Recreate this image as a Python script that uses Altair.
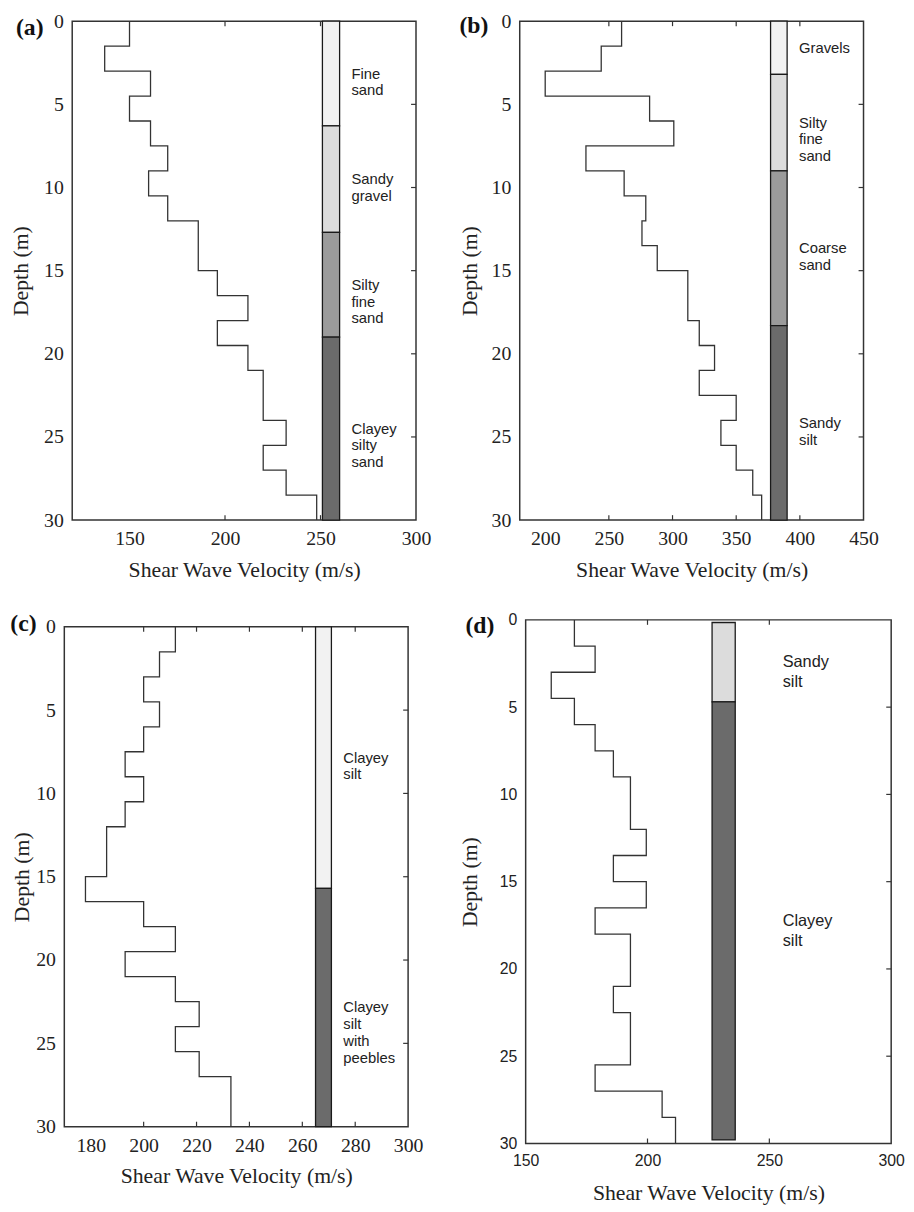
import altair as alt
import pandas as pd

# ---------------- data ----------------
# (a)
a_top = [0, 1.5, 3, 4.5, 6, 7.5, 9, 10.5, 12, 15, 16.5, 18, 19.5, 21, 24, 25.5, 27, 28.5]
a_vs = [150, 137, 161, 150, 161, 170, 160, 170, 186, 196, 212, 196, 212, 220, 232, 220, 232, 248]
a_soil = ["Fine\nsand", "Sandy\ngravel", "Silty\nfine\nsand", "Clayey\nsilty\nsand"]
a_soil_top = [0, 6.3, 12.7, 19.0]
a_soil_bot = [6.3, 12.7, 19.0, 30]
a_col = [251, 260]
# (b)
b_top = [0, 1.5, 3, 4.5, 6, 7.5, 9, 10.5, 12, 13.5, 15, 18, 19.5, 21, 22.5, 24, 25.5, 27, 28.5]
b_vs = [260, 244, 200, 282, 301, 232, 262, 279, 276, 288, 312, 321, 333, 321, 350, 338, 350, 363, 370]
b_soil = ["Gravels", "Silty\nfine\nsand", "Coarse\nsand", "Sandy\nsilt"]
b_soil_top = [0, 3.2, 9.0, 18.3]
b_soil_bot = [3.2, 9.0, 18.3, 30]
b_col = [377, 390]
# (c)
c_top = [0, 1.5, 3, 4.5, 6, 7.5, 9, 10.5, 12, 15, 16.5, 18, 19.5, 21, 22.5, 24, 25.5, 27]
c_vs = [212, 206, 200, 206, 200, 193, 200, 193, 186, 178, 200, 212, 193, 212, 221, 212, 221, 233]
c_soil = ["Clayey\nsilt", "Clayey\nsilt\nwith\npeebles"]
c_soil_top = [0, 15.7]
c_soil_bot = [15.7, 30]
c_col = [265, 271]
# (d)
d_top = [0, 1.5, 3, 4.5, 6, 7.5, 9, 12, 13.5, 15, 16.5, 18, 21, 22.5, 25.5, 27, 28.5]
d_vs = [170, 178.5, 160.5, 170, 178.5, 186, 193, 199.5, 186, 199.5, 178.5, 193, 186, 193, 178.5, 206, 211.5]
d_soil = ["Sandy\nsilt", "Clayey\nsilt"]
d_soil_top = [0.15, 4.7]
d_soil_bot = [4.7, 29.8]
d_col = [226.5, 236]

depth_ticks = [0, 5, 10, 15, 20, 25, 30]
a_xticks = [150, 200, 250, 300]
b_xticks = [200, 250, 300, 350, 400, 450]
c_xticks = [180, 200, 220, 240, 260, 280, 300]
d_xticks = [150, 200, 250, 300]

SERIF = "Liberation Serif"
SANS = "Liberation Sans"
INK = "#222222"
L1, L2, M, D = "#f2f2f2", "#dcdcdc", "#9b9b9b", "#6b6b6b"


def panel(label, tops, vs, soil, s_top, s_bot, col, colors, xdom, xticks,
          width, height, tick_font, tick_size, lab_dx, lab_size, lab_lh,
          ytitle_x, tag_dx, tag_dy):
    rows = []
    for i, (t, v) in enumerate(zip(tops, vs)):
        b = tops[i + 1] if i + 1 < len(tops) else 30
        rows.append({"v": v, "d": t, "o": 2 * i})
        rows.append({"v": v, "d": b, "o": 2 * i + 1})
    prof = pd.DataFrame(rows)
    soil_df = pd.DataFrame({
        "name": soil, "top": s_top, "bot": s_bot,
        "mid": [(t + b) / 2 for t, b in zip(s_top, s_bot)],
        "left": [col[0]] * len(soil), "right": [col[1]] * len(soil),
        "fill": colors,
    })
    xs = alt.Scale(domain=xdom, nice=False, zero=False)
    ys = alt.Scale(domain=[0, 30], reverse=True, nice=False)
    xax = alt.Axis(
        values=xticks, ticks=False, tickSize=0, domain=False, grid=False,
        labelFont=tick_font, labelFontSize=tick_size, labelColor=INK,
        labelPadding=9, labelFlush=False, labelOverlap=False,
        title="Shear Wave Velocity (m/s)", titleFont=SERIF, titleFontSize=22,
        titleFontWeight="normal", titleColor=INK, titleY=50, titleBaseline="middle")
    yax = alt.Axis(
        values=depth_ticks, ticks=False, tickSize=0, domain=False, grid=False,
        labelFont=tick_font, labelFontSize=tick_size, labelColor=INK,
        labelPadding=9, labelFlush=False, labelOverlap=False,
        title="Depth (m)", titleFont=SERIF, titleFontSize=22,
        titleFontWeight="normal", titleColor=INK, titleX=ytitle_x, titleBaseline="middle")

    line = alt.Chart(prof).mark_line(color="#333333", strokeWidth=1.3).encode(
        x=alt.X("v:Q", scale=xs, axis=xax),
        y=alt.Y("d:Q", scale=ys, axis=yax),
        order="o:Q",
    )
    rect = alt.Chart(soil_df).mark_rect(stroke="#1a1a1a", strokeWidth=1.3).encode(
        x=alt.X("left:Q", scale=xs, axis=xax), x2="right:Q",
        y=alt.Y("top:Q", scale=ys, axis=yax), y2="bot:Q",
        color=alt.Color("fill:N", scale=None),
    )
    text = alt.Chart(soil_df).mark_text(
        align="left", baseline="middle", dx=lab_dx, font=SANS, fontSize=lab_size,
        lineHeight=lab_lh, lineBreak="\n", color=INK,
    ).encode(
        x=alt.X("right:Q", scale=xs, axis=xax),
        y=alt.Y("mid:Q", scale=ys, axis=yax),
        text="name:N",
    )
    inner_x = pd.DataFrame({"t": xticks[1:-1]})
    inner_y = pd.DataFrame({"t": depth_ticks[1:-1]})
    tb = alt.Chart(inner_x).mark_rule(color="#333333", strokeWidth=1.2).encode(
        x=alt.X("t:Q", scale=xs, axis=xax), y=alt.value(height), y2=alt.value(height - 5))
    tt = alt.Chart(inner_x).mark_rule(color="#333333", strokeWidth=1.2).encode(
        x=alt.X("t:Q", scale=xs, axis=xax), y=alt.value(0), y2=alt.value(5))
    tr = alt.Chart(inner_y).mark_rule(color="#333333", strokeWidth=1.2).encode(
        y=alt.Y("t:Q", scale=ys, axis=yax), x=alt.value(width - 5), x2=alt.value(width))
    tag = alt.Chart(alt.Data(values=[{"lab": label}])).mark_text(
        font=SERIF, fontSize=24, fontWeight="bold", color="#111111",
        align="left", baseline="alphabetic", dx=tag_dx, dy=tag_dy,
    ).encode(x=alt.value(0), y=alt.value(0), text="lab:N")
    return alt.layer(line, rect, text, tb, tt, tr, tag).properties(
        width=width, height=height)


def spacer():
    return alt.Chart(alt.Data(values=[{"z": 0}])).mark_point(size=0, opacity=0).properties(
        width=1, height=1, view=alt.ViewBackground(strokeOpacity=0, fillOpacity=0))


pa = panel("(a)", a_top, a_vs, a_soil, a_soil_top, a_soil_bot, a_col, [L1, L2, M, D],
           [120, 300], a_xticks, 348, 505, SERIF, 20, 12, 15, 17, -52, -57, 14)
pb = panel("(b)", b_top, b_vs, b_soil, b_soil_top, b_soil_bot, b_col, [L1, L2, M, D],
           [180, 450], b_xticks, 348, 505, SERIF, 20, 12, 15, 17, -51, -61, 12)
pc = panel("(c)", c_top, c_vs, c_soil, c_soil_top, c_soil_bot, c_col, [L1, D],
           [170, 300], c_xticks, 348, 506, SERIF, 20, 12, 15, 17, -43.7, -54.7, 4)
pd_ = panel("(d)", d_top, d_vs, d_soil, d_soil_top, d_soil_bot, d_col, [L2, D],
            [150, 300], d_xticks, 370, 530, SANS, 16, 48, 16.5, 20, -56.3, -61, 13)

cells = [alt.hconcat(spacer(), p, spacing=0) for p in (pa, pb, pc, pd_)]

chart = alt.concat(*cells, columns=2, align="none",
                   spacing={"row": 30, "column": 25}).properties(
    padding={"left": 0, "top": -5, "right": 0, "bottom": 0}, background="white"
).configure_view(stroke="#333333", strokeWidth=1.5)

chart.save("out.html", embed_options={"renderer": "svg", "actions": False})
